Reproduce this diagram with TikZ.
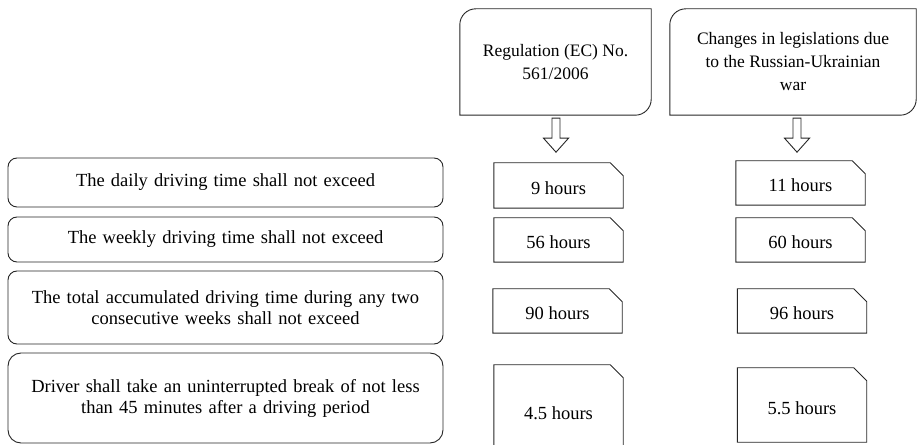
\documentclass[tikz,border=0pt]{standalone}
\usepackage{fontspec}
\setmainfont{Liberation Serif}
\begin{document}
\begin{tikzpicture}[x=1pt,y=1pt,
  ln/.style={line width=0.9pt, draw=black!85},
  leftbox/.style={ln, draw, rounded corners=9pt, minimum width=435pt, inner sep=0pt,
    text width=420pt, align=center, font=\fontsize{18.5}{21}\selectfont},
  valbox/.style={inner sep=0pt, minimum width=129pt, text height=18pt, text depth=0pt,
    font=\fontsize{18.5}{21}\selectfont},
  topbox/.style={inner sep=0pt, align=center, minimum height=106pt,
    font=\fontsize{17.5}{23}\selectfont},
  blockarrow/.style={ln, fill=white}
]
\useasboundingbox (0,0) rectangle (917,444);

% top boxes
\node[topbox, minimum width=191pt] (reg) at (555.5,382) {Regulation (EC) No.\\561/2006};
\node[topbox, minimum width=246pt] (chg) at (793,382) {Changes in legislations due\\to the Russian-Ukrainian\\war};
\foreach \n in {reg,chg}{
  \draw[ln] (\n.south west) -- ([yshift=-16pt]\n.north west)
    arc[start angle=180,end angle=90,radius=16pt] -- (\n.north east)
    -- ([yshift=16pt]\n.south east)
    arc[start angle=0,end angle=-90,radius=16pt] -- cycle;
}

% left boxes
\node[leftbox, minimum height=49pt] (l1) at (225.5,261.5) {The daily driving time shall not exceed};
\node[leftbox, minimum height=45pt] (l2) at (225.5,204.5) {The weekly driving time shall not exceed};
\node[leftbox, minimum height=73pt] (l3) at (225.5,136.5) {The total accumulated driving time during any two\\consecutive weeks shall not exceed};
\node[leftbox, minimum height=90pt, rounded corners=13pt] (l4) at (225.5,46) {Driver shall take an uninterrupted break of not less\\than 45 minutes after a driving period};

% value boxes
\node[valbox, minimum height=45pt] (a1) at (558.5,258.5) {9 hours};
\node[valbox, minimum height=44pt] (a2) at (558.5,204) {56 hours};
\node[valbox, minimum height=44pt] (a3) at (557.5,133) {90 hours};
\node[valbox, minimum height=90pt] (a4) at (558.5,34) {4.5 hours};
\node[valbox, minimum height=44pt] (b1) at (800.5,261) {11 hours};
\node[valbox, minimum height=44pt] (b2) at (800.5,204) {60 hours};
\node[valbox, minimum height=44pt] (b3) at (802,133) {96 hours};
\node[valbox, minimum height=74pt] (b4) at (802,39) {5.5 hours};
\foreach \n in {a1,a2,a3,a4,b1,b2,b3,b4}{
  \draw[ln] (\n.south west) -- (\n.north west) -- ([xshift=-13pt]\n.north east)
    -- ([yshift=-13pt]\n.north east) -- (\n.south east) -- cycle;
}

% block arrows
\coordinate (t1) at ([xshift=0.5pt,yshift=-3pt]reg.south);
\coordinate (t2) at ([xshift=4pt,yshift=-3pt]chg.south);
\foreach \t in {t1,t2}{
  \draw[blockarrow] (\t) ++(-4,0) -- ++(0,-20) -- ++(-8.5,0) -- ++(12.5,-14)
    -- ++(12.5,14) -- ++(-8.5,0) -- ++(0,20) -- cycle;
}
\end{tikzpicture}
\end{document}
